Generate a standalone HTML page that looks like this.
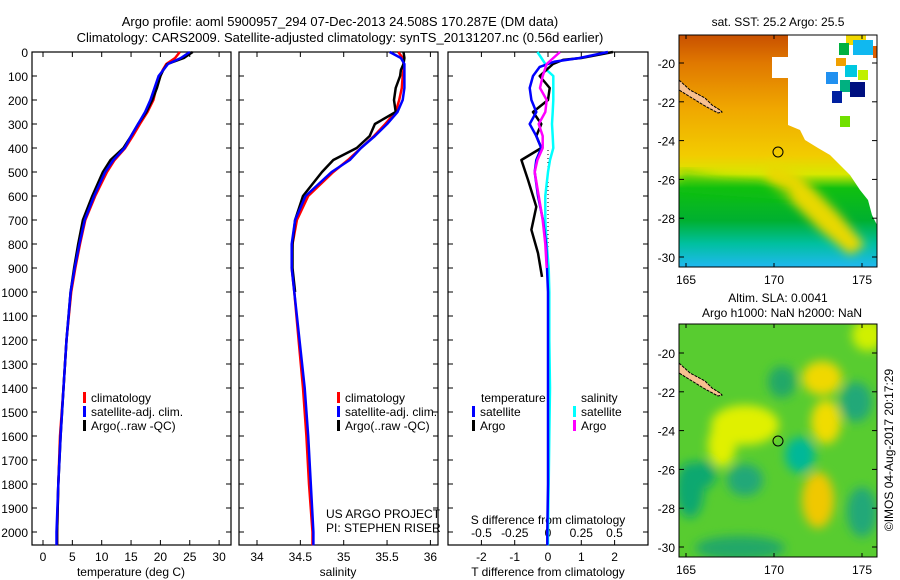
<!DOCTYPE html>
<html><head><meta charset="utf-8"><style>
body{margin:0;background:#fff}
svg{display:block;font-family:"Liberation Sans",sans-serif;font-size:12px}
</style></head><body>
<svg id="fig" width="900" height="580" viewBox="0 0 900 580">
<defs>
<linearGradient id="sstg" x1="0" y1="0" x2="0" y2="1">
<stop offset="0" stop-color="#c85000"/><stop offset="0.12" stop-color="#e07800"/>
<stop offset="0.32" stop-color="#f0a800"/><stop offset="0.52" stop-color="#f2cc00"/>
<stop offset="0.6" stop-color="#d8e800"/><stop offset="0.66" stop-color="#10c010"/>
<stop offset="0.8" stop-color="#00b030"/><stop offset="0.9" stop-color="#00c0a0"/>
<stop offset="1" stop-color="#20b8f0"/></linearGradient>
<filter id="blur"><feGaussianBlur stdDeviation="5"/></filter>
<clipPath id="c1"><rect x="679" y="35" width="198" height="232"/></clipPath>
<clipPath id="c2"><rect x="679" y="324" width="198" height="233"/></clipPath>
</defs>
<text x="340" y="26" text-anchor="middle" font-size="13">Argo profile: aoml 5900957_294 07-Dec-2013 24.508S 170.287E (DM data)</text>
<text x="340" y="42" text-anchor="middle" font-size="13">Climatology: CARS2009. Satellite-adjusted climatology: synTS_20131207.nc (0.56d earlier)</text>
<g id="p1"></g>
<g id="p2"></g>
<g id="p3"></g>

<g>
<text x="778" y="26" text-anchor="middle">sat. SST: 25.2 Argo: 25.5</text>
<g clip-path="url(#c1)">
<rect x="679" y="35" width="198" height="232" fill="url(#sstg)"/>
<polygon points="770,160 800,175 840,215 865,245 850,255 820,230 790,200 765,180" fill="#e8d800" filter="url(#blur)"/>
<polygon points="679,170 720,178 760,182 790,190 790,200 720,195 679,192" fill="#10c010" filter="url(#blur)" opacity="0.5"/>
<polygon points="788,35 788,57 772,57 772,78 788,78 788,125 800,130 805,140 818,148 830,155 840,165 850,175 860,190 868,200 872,215 877,225 877,35" fill="#fff"/>
<rect x="846" y="35" width="20" height="10" fill="#f0d800"/><rect x="853" y="40" width="20" height="15" fill="#10b8f0"/>
<rect x="839" y="43" width="10" height="12" fill="#00b040"/><rect x="826" y="72" width="12" height="12" fill="#2090f0"/>
<rect x="845" y="65" width="12" height="12" fill="#00c8e0"/><rect x="858" y="70" width="10" height="10" fill="#c0f000"/>
<rect x="840" y="80" width="10" height="12" fill="#00b080"/><rect x="850" y="82" width="15" height="15" fill="#001080"/>
<rect x="832" y="91" width="10" height="12" fill="#0020a0"/><rect x="840" y="116" width="10" height="11" fill="#70e000"/>
<rect x="836" y="58" width="10" height="8" fill="#f0a000"/><rect x="873" y="46" width="4" height="12" fill="#e06000"/>
<polygon points="679,80 690,90 705,98 712,105 720,110 722,112 718,113 705,106 692,98 679,90" fill="#f8c090" stroke="#000" stroke-width="1" stroke-dasharray="3 1"/>
<circle cx="778" cy="152" r="5" fill="none" stroke="#000"/>
</g>
<rect x="679" y="35" width="198" height="232" fill="none" stroke="#000"/>
</g>

<g>
<text x="778" y="302" text-anchor="middle">Altim. SLA: 0.0041</text>
<text x="782" y="317" text-anchor="middle">Argo h1000: NaN h2000: NaN</text>
<g clip-path="url(#c2)">
<rect x="679" y="324" width="198" height="233" fill="#58cc30"/>
<g filter="url(#blur)">
<ellipse cx="822" cy="378" rx="20" ry="17" fill="#f0d800"/>
<ellipse cx="826" cy="422" rx="15" ry="22" fill="#f0dc00"/>
<ellipse cx="818" cy="500" rx="16" ry="28" fill="#f0c800"/>
<ellipse cx="745" cy="425" rx="34" ry="20" fill="#e0f000"/>
<ellipse cx="722" cy="445" rx="14" ry="22" fill="#e0f000"/>
<ellipse cx="690" cy="490" rx="14" ry="28" fill="#10a870"/>
<ellipse cx="702" cy="475" rx="14" ry="14" fill="#10a870"/>
<ellipse cx="800" cy="455" rx="15" ry="18" fill="#00b898"/>
<ellipse cx="856" cy="402" rx="16" ry="20" fill="#20a878"/>
<ellipse cx="740" cy="548" rx="45" ry="12" fill="#20a868"/>
<ellipse cx="862" cy="512" rx="15" ry="25" fill="#20a878"/>
<ellipse cx="782" cy="382" rx="14" ry="16" fill="#20a868"/>
<ellipse cx="868" cy="335" rx="16" ry="16" fill="#d0f000"/>
<ellipse cx="745" cy="480" rx="18" ry="16" fill="#20a878"/>
</g>
<polygon points="679,363 690,373 705,381 712,388 720,393 722,395 718,396 705,389 692,381 679,373" fill="#f8c090" stroke="#000" stroke-width="1" stroke-dasharray="3 1"/>
<circle cx="778" cy="441" r="5" fill="none" stroke="#000"/>
</g>
<rect x="679" y="324" width="198" height="233" fill="none" stroke="#000"/>
</g>
<text transform="translate(893,450) rotate(-90)" text-anchor="middle">©IMOS 04-Aug-2017 20:17:29</text>
</svg>
<script>
const depths=[0,25,50,75,100,150,200,250,300,350,400,450,500,600,700,800,900,1000,1200,1400,1600,1800,2000,2055];
const tempClim=[23.3,22.5,21.0,20.4,20.0,19.3,18.8,17.8,16.5,15.3,14.0,12.2,10.9,8.9,7.2,6.3,5.5,4.8,4.0,3.5,2.9,2.6,2.4,2.4];
const tempSat=[25.0,23.5,21.3,20.5,19.7,19.0,18.3,17.4,16.2,15.0,13.9,12.0,10.6,8.7,7.1,6.2,5.4,4.7,4.0,3.5,3.0,2.6,2.3,2.3];
const tempArgo=[25.5,24.0,21.2,20.5,20.0,19.4,18.6,17.6,16.2,15.0,13.7,11.5,10.2,8.4,6.8,6.0,5.3,4.7,4.0,3.5,3.0,2.6,2.4,2.4];
const salClim=[35.63,35.68,35.69,35.69,35.68,35.67,35.64,35.6,35.48,35.35,35.2,35.05,34.88,34.59,34.46,34.41,34.4,34.43,34.48,34.53,34.57,34.6,34.64,34.64];
const salSat=[35.53,35.66,35.7,35.7,35.7,35.7,35.68,35.62,35.5,35.36,35.2,35.07,34.86,34.56,34.44,34.4,34.4,34.43,34.49,34.55,34.59,34.62,34.65,34.65];
const salArgo=[35.69,35.7,35.69,35.66,35.65,35.6,35.58,35.6,35.36,35.3,35.15,34.88,34.75,34.53,34.44,34.41,34.41,34.44];
const tDiffDepths=[0,25,40,62,100,150,200,250,300,350,400,450,500,600,700,800,900,1000,1200,1400,1600,1800,2000,2055];
const tDiffSat=[1.8,0.95,0.2,-0.25,-0.45,-0.55,-0.5,-0.35,-0.55,-0.35,-0.2,-0.35,-0.4,-0.3,-0.15,-0.06,-0.03,0,0,0,0,0,-0.02,-0.02];
const tDiffArgoDepths=[0,25,33,50,100,150,200,250,300,350,400,450,533,645,741,838,937];
const tDiffArgo=[1.95,1.0,0.45,0.15,-0.25,0.05,0,-0.45,-0.2,-0.35,-0.2,-0.8,-0.6,-0.35,-0.5,-0.3,-0.18];
const sDiffSat=[-0.08,-0.05,-0.02,-0.01,0.04,0.04,0.04,0.035,0.03,0.035,0.04,0.015,0,-0.02,-0.02,-0.01,0.005,0.01,0.01,0.015,0.01,0.005,0,0];
const sDiffArgoDepths=[0,25,50,100,150,200,250,300,350,400,450,500,600,700,800,900];
const sDiffArgo=[0.09,0.04,-0.01,-0.04,-0.06,-0.01,-0.02,-0.07,-0.04,-0.04,-0.08,-0.1,-0.07,-0.04,-0.02,-0.01];
const depthTicks=[0,100,200,300,400,500,600,700,800,900,1000,1100,1200,1300,1400,1500,1600,1700,1800,1900,2000];
const tempTicks=[0,5,10,15,20,25,30];
const salTicks=[34,34.5,35,35.5,36];
const tdTicks=[-2,-1,0,1,2];
const sdTicks=[-0.5,-0.25,0,0.25,0.5];
const sdTickLabels=['-0.5','-0.25','0','0.25','0.5'];
const lonTicks=[165,170,175];
const latTicks=[-20,-22,-24,-26,-28,-30];

const NS='http://www.w3.org/2000/svg';
const fig=document.getElementById('fig');
const yD=d=>52+d*0.24;
const xT=t=>43+t*5.87;
const xS=s=>257+(s-34)*86.7;
const xTD=t=>548+t*33.3;
const xSD=s=>548+s*133;
function mk(tag,attrs,parent){const e=document.createElementNS(NS,tag);for(const k in attrs)e.setAttribute(k,attrs[k]);(parent||fig).appendChild(e);return e;}
function line(parent,xs,ds,xf,color,w){
  let p='';for(let i=0;i<xs.length;i++){p+=(i?'L':'M')+xf(xs[i]).toFixed(1)+' '+yD(ds[i]).toFixed(1);}
  return mk('path',{d:p,fill:'none',stroke:color,'stroke-width':w,'stroke-linejoin':'round'},parent);
}
function frame(parent,x0,x1,name,leftLabels){
  const r=mk('rect',{x:x0,y:52,width:x1-x0,height:493,fill:'none',stroke:'#000','stroke-width':1.2},parent);
  
  
  depthTicks.forEach(d=>{
    mk('line',{x1:x0,x2:x0+5,y1:yD(d),y2:yD(d),stroke:'#000'},parent);
    mk('line',{x1:x1-5,x2:x1,y1:yD(d),y2:yD(d),stroke:'#000'},parent);
    if(leftLabels){const t=mk('text',{x:x0-4,y:yD(d)+5,'text-anchor':'end'},parent);t.textContent=d;
      
      }
  });
}
function xaxis(parent,ticks,labels,xf,y,withTop){
  ticks.forEach((v,i)=>{
    const x=xf(v);
    if(withTop){mk('line',{x1:x,x2:x,y1:52,y2:57,stroke:'#000'},parent);mk('line',{x1:x,x2:x,y1:540,y2:545,stroke:'#000'},parent);}
    const t=mk('text',{x:x,y:y,'text-anchor':'middle'},parent);t.textContent=labels[i];
    
    
  });
}
function legend(parent,x,y,items){
  items.forEach((it,i)=>{
    mk('rect',{x:x,y:y+i*14-10,width:3,height:11,fill:it[1]},parent);
    const t=mk('text',{x:x+8,y:y+i*14},parent);t.textContent=it[0];
    
    
  });
}
function txt(parent,x,y,s,name,anchor){const t=mk('text',{x:x,y:y,'text-anchor':anchor||'start'},parent);t.textContent=s;
  
  return t;}

// Panel 1
const p1=document.getElementById('p1');
frame(p1,32,231,'temperature',true);
xaxis(p1,tempTicks,tempTicks,xT,561,true);
txt(p1,131,576,'temperature (deg C)','x-axis-title','middle');
line(p1,tempClim,depths,xT,'#f00',2.5);
line(p1,tempArgo,depths,xT,'#000',2.5);
line(p1,tempSat,depths,xT,'#00f',2.5);
legend(p1,83,402,[['climatology','#f00'],['satellite-adj. clim.','#00f'],['Argo(..raw -QC)','#000']]);

// Panel 2
const p2=document.getElementById('p2');
frame(p2,239,438,'salinity',false);
xaxis(p2,salTicks,salTicks,xS,561,true);
txt(p2,338,576,'salinity','x-axis-title','middle');
line(p2,salClim,depths,xS,'#f00',2.5);
line(p2,salArgo,depths.slice(0,salArgo.length),xS,'#000',2.5);
line(p2,salSat,depths,xS,'#00f',2.5);
legend(p2,337,402,[['climatology','#f00'],['satellite-adj. clim.','#00f'],['Argo(..raw -QC)','#000']]);
txt(p2,326,518,'US ARGO PROJECT','pi-credit-1');
txt(p2,326,532,'PI: STEPHEN RISER','pi-credit-2');

// Panel 3
const p3=document.getElementById('p3');
frame(p3,448,648,'difference',false);
xaxis(p3,tdTicks,tdTicks,xTD,561,true);
xaxis(p3,sdTicks,sdTickLabels,xSD,537,false);
txt(p3,548,524,'S difference from climatology','s-axis-title','middle');
txt(p3,548,576,'T difference from climatology','t-axis-title','middle');
mk('line',{x1:548,x2:548,y1:150,y2:285,stroke:'#000','stroke-dasharray':'1 3'},p3);
line(p3,sDiffSat,depths,xSD,'#0ff',2.5);
line(p3,tDiffArgo,tDiffArgoDepths,xTD,'#000',2.5);
line(p3,tDiffSat,tDiffDepths,xTD,'#00f',2.5);
line(p3,sDiffArgo,sDiffArgoDepths,xSD,'#f0f',2.5);
txt(p3,481,402,'temperature','legend-heading');
txt(p3,581,402,'salinity','legend-heading');
legend(p3,472,416,[['satellite','#00f'],['Argo','#000']]);
legend(p3,573,416,[['satellite','#0ff'],['Argo','#f0f']]);

// Map axes
const lonX=l=>686+(l-165)*17.6;
[[35,267,63,257],[324,557,353,547]].forEach(m=>{
  const [top,bot,y20,y30]=m;
  const latY=la=>y20+(-20-la)*(y30-y20)/10;
  latTicks.forEach(la=>{
    const y=latY(la);
    mk('line',{x1:679,x2:684,y1:y,y2:y,stroke:'#000'});
    mk('line',{x1:872,x2:877,y1:y,y2:y,stroke:'#000'});
    const t=mk('text',{x:675,y:y+5,'text-anchor':'end'});t.textContent=la;
    
    
  });
  lonTicks.forEach(lo=>{
    const x=lonX(lo);
    mk('line',{x1:x,x2:x,y1:top,y2:top+4,stroke:'#000'});
    mk('line',{x1:x,x2:x,y1:bot-4,y2:bot,stroke:'#000'});
    const t=mk('text',{x:x,y:bot+17,'text-anchor':'middle'});t.textContent=lo;
    
    
  });
});
</script>
</body></html>
